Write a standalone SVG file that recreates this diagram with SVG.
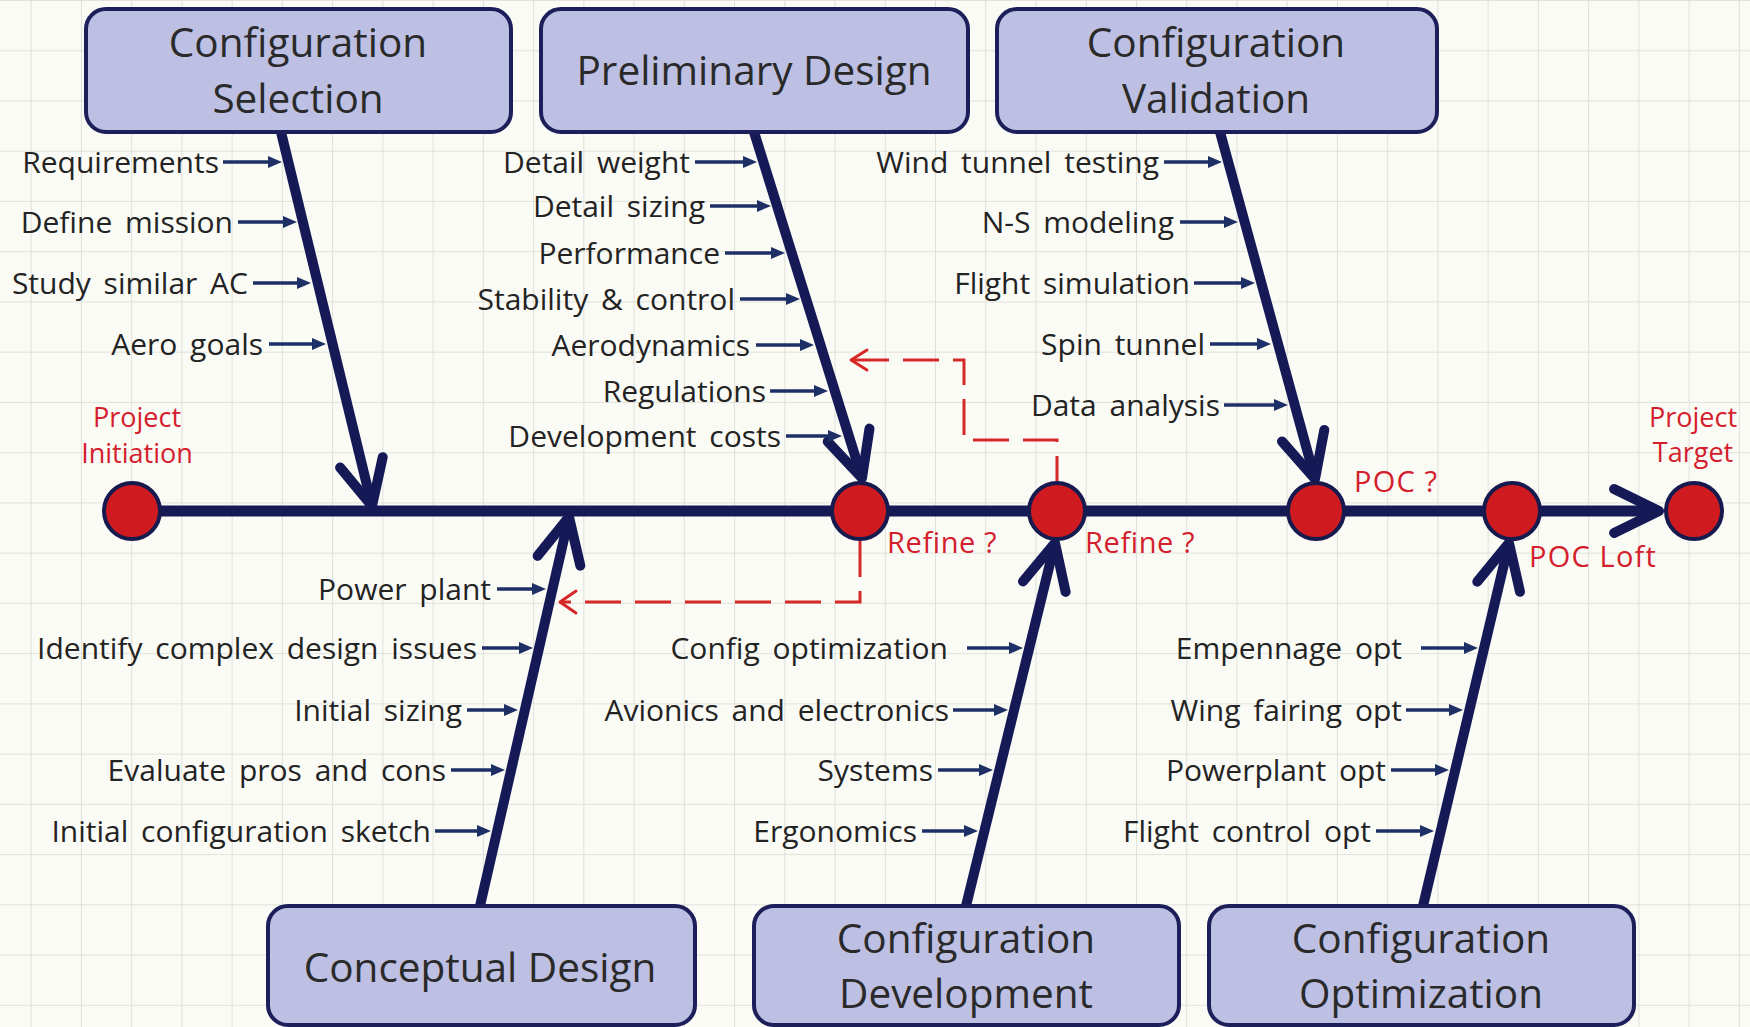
<svg xmlns="http://www.w3.org/2000/svg" width="1750" height="1027" viewBox="0 0 1750 1027">
  <style>
    .bg { fill: #fbfbf6; }
    .box { fill: #bdc0e3; stroke: #1c1f5a; stroke-width: 4; }
    .title { font-family: "Open Sans", "Noto Sans", "DejaVu Sans", sans-serif; font-size: 40.5px; fill: #2a2a2a; text-anchor: middle; }
    .lbl { font-family: "Open Sans", "Noto Sans", "DejaVu Sans", sans-serif; font-size: 30px; word-spacing: 5px; fill: #232323; text-anchor: end; }
    .red { font-family: "Open Sans", "Noto Sans", "DejaVu Sans", sans-serif; fill: #d3202c; }
    .bone { stroke: #151a57; stroke-width: 10; fill: none; stroke-linecap: butt; }
    .head { stroke: #151a57; stroke-width: 10; fill: none; stroke-linecap: round; stroke-linejoin: round; }
    .spine { stroke: #151a57; stroke-width: 11; fill: none; }
    .cause { stroke: #1e2f66; stroke-width: 3.5; fill: none; marker-end: url(#tri); }
    .node { fill: #cf1b1f; stroke: #161a4f; stroke-width: 4; }
    .loop { stroke: #d62828; stroke-width: 3; fill: none; stroke-dasharray: 36 14; }
    .loophead { stroke: #d62828; stroke-width: 3; fill: none; stroke-linecap: round; stroke-linejoin: round; }
  </style>
  <defs>
    <pattern id="grid" patternUnits="userSpaceOnUse" x="30.7" y="0" width="50.24" height="50.24">
      <path d="M0 0 V50.24 M0 0 H50.24" stroke="#dadad5" stroke-width="1.6" fill="none"/>
    </pattern>
    <marker id="tri" markerUnits="userSpaceOnUse" viewBox="0 0 14 12" refX="6" refY="6" markerWidth="14" markerHeight="12" orient="auto">
      <path d="M0 0 L14 6 L0 12 Z" fill="#1e2f66"/>
    </marker>
  </defs>

  <!-- paper -->
  <rect class="bg" x="0" y="0" width="1750" height="1027"/>
  <rect x="0" y="0" width="1750" height="1027" fill="url(#grid)"/>

  <!-- spine, bones and cause arrows -->
  <g id="connectors">
    <line class="spine" x1="132" y1="511" x2="1656" y2="511"/>
    <path class="head" d="M1614.1 489.1 L1659 511 L1614.1 532.9"/>

    <!-- bone: Configuration Selection -->
    <line class="bone" x1="281" y1="132" x2="372" y2="506"/>
    <path class="head" d="M340.1 467.5 L372 506 L382.7 457.2"/>
    <!-- bone: Preliminary Design -->
    <line class="bone" x1="754" y1="132" x2="862" y2="478"/>
    <path class="head" d="M827.7 441.6 L862 478 L869.5 428.6"/>
    <!-- bone: Configuration Validation -->
    <line class="bone" x1="1220" y1="132" x2="1315" y2="479"/>
    <path class="head" d="M1282 441.4 L1315 479 L1324.3 429.9"/>
    <!-- bone: Conceptual Design -->
    <line class="bone" x1="480" y1="906" x2="569" y2="517"/>
    <path class="head" d="M537.6 555.9 L569 517 L580.3 565.7"/>
    <!-- bone: Configuration Development -->
    <line class="bone" x1="966" y1="906" x2="1055" y2="543"/>
    <path class="head" d="M1023 581.4 L1055 543 L1065.6 591.9"/>
    <!-- bone: Configuration Optimization -->
    <line class="bone" x1="1423" y1="906" x2="1509" y2="543"/>
    <path class="head" d="M1477.3 581.7 L1509 543 L1520 591.8"/>

    <!-- causes: Configuration Selection -->
    <line class="cause" x1="223" y1="162" x2="274" y2="162"/>
    <line class="cause" x1="238" y1="222" x2="289" y2="222"/>
    <line class="cause" x1="253" y1="283" x2="303" y2="283"/>
    <line class="cause" x1="269" y1="344" x2="318" y2="344"/>
    <!-- causes: Preliminary Design -->
    <line class="cause" x1="695" y1="162" x2="749" y2="162"/>
    <line class="cause" x1="710" y1="206" x2="763" y2="206"/>
    <line class="cause" x1="725" y1="253" x2="777" y2="253"/>
    <line class="cause" x1="740" y1="299" x2="792" y2="299"/>
    <line class="cause" x1="756" y1="345" x2="806" y2="345"/>
    <line class="cause" x1="770" y1="391" x2="820" y2="391"/>
    <line class="cause" x1="786" y1="436" x2="834" y2="436"/>
    <!-- causes: Configuration Validation -->
    <line class="cause" x1="1164" y1="162" x2="1214" y2="162"/>
    <line class="cause" x1="1180" y1="222" x2="1230" y2="222"/>
    <line class="cause" x1="1194" y1="283" x2="1247" y2="283"/>
    <line class="cause" x1="1210" y1="344" x2="1263" y2="344"/>
    <line class="cause" x1="1224" y1="405" x2="1280" y2="405"/>
    <!-- causes: Conceptual Design -->
    <line class="cause" x1="497" y1="589" x2="538" y2="589"/>
    <line class="cause" x1="482" y1="648" x2="525" y2="648"/>
    <line class="cause" x1="467" y1="710" x2="510" y2="710"/>
    <line class="cause" x1="451" y1="770" x2="497" y2="770"/>
    <line class="cause" x1="435" y1="831" x2="483" y2="831"/>
    <!-- causes: Configuration Development -->
    <line class="cause" x1="967" y1="648" x2="1015" y2="648"/>
    <line class="cause" x1="953" y1="710" x2="1000" y2="710"/>
    <line class="cause" x1="938" y1="770" x2="985" y2="770"/>
    <line class="cause" x1="922" y1="831" x2="970" y2="831"/>
    <!-- causes: Configuration Optimization -->
    <line class="cause" x1="1421" y1="648" x2="1470" y2="648"/>
    <line class="cause" x1="1406" y1="710" x2="1455" y2="710"/>
    <line class="cause" x1="1391" y1="770" x2="1441" y2="770"/>
    <line class="cause" x1="1376" y1="831" x2="1426" y2="831"/>

    <!-- refine loops -->
    <path class="loop" d="M860 541 V602 H562"/>
    <path class="loophead" d="M576 591 L560 602 L576 613"/>
    <path class="loop" stroke-dashoffset="11" d="M1057 481 V440 H964 V360 H853"/>
    <path class="loophead" d="M867 350 L851 360 L867 370"/>
  </g>

  <!-- category boxes -->
  <g id="configuration-selection">
    <rect class="box" x="86" y="9" width="425" height="123" rx="20"/>
    <text class="title" x="298" y="57">Configuration</text>
    <text class="title" x="298" y="113">Selection</text>
  </g>
  <g id="preliminary-design">
    <rect class="box" x="541" y="9" width="427" height="123" rx="20"/>
    <text class="title" x="754" y="85">Preliminary Design</text>
  </g>
  <g id="configuration-validation">
    <rect class="box" x="997" y="9" width="440" height="123" rx="20"/>
    <text class="title" x="1216" y="57">Configuration</text>
    <text class="title" x="1216" y="113">Validation</text>
  </g>
  <g id="conceptual-design">
    <rect class="box" x="268" y="906" width="427" height="119" rx="20"/>
    <text class="title" x="480" y="982">Conceptual Design</text>
  </g>
  <g id="configuration-development">
    <rect class="box" x="754" y="906" width="425" height="119" rx="20"/>
    <text class="title" x="966" y="953">Configuration</text>
    <text class="title" x="966" y="1008">Development</text>
  </g>
  <g id="configuration-optimization">
    <rect class="box" x="1209" y="906" width="425" height="119" rx="20"/>
    <text class="title" x="1421" y="953">Configuration</text>
    <text class="title" x="1421" y="1008">Optimization</text>
  </g>

  <!-- cause labels -->
  <g id="labels-selection">
    <text class="lbl" x="219" y="173">Requirements</text>
    <text class="lbl" x="233" y="233">Define mission</text>
    <text class="lbl" x="248" y="294">Study similar AC</text>
    <text class="lbl" x="263" y="355">Aero goals</text>
  </g>
  <g id="labels-preliminary">
    <text class="lbl" x="690" y="173">Detail weight</text>
    <text class="lbl" x="705" y="217">Detail sizing</text>
    <text class="lbl" x="720" y="264">Performance</text>
    <text class="lbl" x="735" y="310">Stability &amp; control</text>
    <text class="lbl" x="750" y="356">Aerodynamics</text>
    <text class="lbl" x="766" y="402">Regulations</text>
    <text class="lbl" x="781" y="447">Development costs</text>
  </g>
  <g id="labels-validation">
    <text class="lbl" x="1159" y="173">Wind tunnel testing</text>
    <text class="lbl" x="1174" y="233">N-S modeling</text>
    <text class="lbl" x="1190" y="294">Flight simulation</text>
    <text class="lbl" x="1205" y="355">Spin tunnel</text>
    <text class="lbl" x="1220" y="416">Data analysis</text>
  </g>
  <g id="labels-conceptual">
    <text class="lbl" x="491" y="600">Power plant</text>
    <text class="lbl" x="477" y="659">Identify complex design issues</text>
    <text class="lbl" x="462" y="721">Initial sizing</text>
    <text class="lbl" x="446" y="781">Evaluate pros and cons</text>
    <text class="lbl" x="431" y="842">Initial configuration sketch</text>
  </g>
  <g id="labels-development">
    <text class="lbl" x="948" y="659">Config optimization</text>
    <text class="lbl" x="949" y="721">Avionics and electronics</text>
    <text class="lbl" x="933" y="781">Systems</text>
    <text class="lbl" x="917" y="842">Ergonomics</text>
  </g>
  <g id="labels-optimization">
    <text class="lbl" x="1402" y="659">Empennage opt</text>
    <text class="lbl" x="1402" y="721">Wing fairing opt</text>
    <text class="lbl" x="1386" y="781">Powerplant opt</text>
    <text class="lbl" x="1371" y="842">Flight control opt</text>
  </g>

  <!-- milestones -->
  <g id="project-initiation">
    <circle class="node" cx="132" cy="511" r="28"/>
    <text class="red" x="137" y="427" font-size="27" text-anchor="middle">Project</text>
    <text class="red" x="137" y="463" font-size="27" text-anchor="middle">Initiation</text>
  </g>
  <g id="refine-1">
    <circle class="node" cx="860" cy="511" r="28"/>
    <text class="red" x="887" y="553" font-size="29" letter-spacing="0.6">Refine ?</text>
  </g>
  <g id="refine-2">
    <circle class="node" cx="1057" cy="511" r="28"/>
    <text class="red" x="1085" y="553" font-size="29" letter-spacing="0.6">Refine ?</text>
  </g>
  <g id="poc">
    <circle class="node" cx="1316" cy="511" r="28"/>
    <text class="red" x="1354" y="492" font-size="29" letter-spacing="1.2">POC ?</text>
  </g>
  <g id="poc-loft">
    <circle class="node" cx="1512" cy="511" r="28"/>
    <text class="red" x="1529" y="567" font-size="29" letter-spacing="1.2">POC Loft</text>
  </g>
  <g id="project-target">
    <circle class="node" cx="1694" cy="511" r="28"/>
    <text class="red" x="1693" y="427" font-size="27" text-anchor="middle">Project</text>
    <text class="red" x="1693" y="462" font-size="27" text-anchor="middle">Target</text>
  </g>
</svg>
